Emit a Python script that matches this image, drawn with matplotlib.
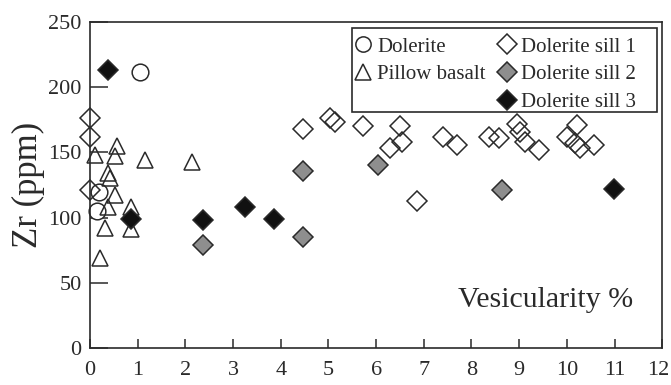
import matplotlib
matplotlib.use("Agg")
import matplotlib.pyplot as plt
import matplotlib.transforms as mtransforms
from matplotlib.lines import Line2D
from matplotlib.patches import Rectangle

plt.rcParams["font.family"] = ["Liberation Serif", "DejaVu Serif"]

# Zr concentration (ppm) vs vesicularity (%) by rock group
dolerite_x = [1.05, 0.20, 0.14]
dolerite_y = [212, 120, 105]

pillow_x = [0.10, 0.56, 0.52, 1.15, 2.13, 0.38, 0.42, 0.52, 0.38, 0.87, 0.87, 0.31, 0.21]
pillow_y = [148, 155, 147, 144, 143, 134, 130, 117, 108, 108, 91, 92, 69]

sill1_x = [0.0, 0.0, 0.0, 4.47, 5.03, 5.14, 5.73, 6.50, 6.54, 6.29, 6.85, 7.41, 7.69,
           8.36, 8.57, 8.95, 9.02, 9.13, 9.41, 10.00, 10.21, 10.17, 10.28, 10.56]
sill1_y = [176, 162, 121, 168, 176, 173, 170, 170, 158, 153, 113, 162, 156,
           162, 161, 172, 166, 158, 152, 162, 171, 157, 153, 156]

sill2_x = [2.38, 4.47, 4.47, 6.05, 8.63]
sill2_y = [79, 136, 85, 140, 121]

sill3_x = [0.38, 0.87, 2.38, 3.25, 3.85, 10.98]
sill3_y = [213, 99, 98, 108, 99, 122]

ink = "#2a2a2a"

fig = plt.figure(figsize=(6.71, 3.85), dpi=100)
ax = fig.add_axes([0.134, 0.096, 0.853, 0.847])

common = dict(linestyle="none", markeredgecolor=ink, markeredgewidth=1.1, clip_on=False)
ax.plot(dolerite_x, dolerite_y, marker="o", ms=12, mfc="white", **common)
ax.plot(pillow_x, pillow_y, marker="^", ms=11, mfc="none", **common)
ax.plot(sill1_x, sill1_y, marker="D", ms=10, mfc="none", **common)
ax.plot(sill2_x, sill2_y, marker="D", ms=10, mfc="#8e8e8e", **common)
ax.plot(sill3_x, sill3_y, marker="D", ms=10, mfc="#111111", **common)

ax.set_xlim(0, 12)
ax.set_ylim(0, 250)
ax.set_xticks(range(0, 13))
ax.set_yticks(range(0, 251, 50))
ax.tick_params(axis="both", direction="in", colors=ink, labelsize=16, width=1.1)
ax.tick_params(axis="x", length=6.5, pad=9)
ax.tick_params(axis="y", length=13, pad=6)
for s in ax.spines.values():
    s.set_linewidth(1.2)
    s.set_color(ink)

# nudge the last x label in so it stays on the canvas
last = ax.get_xticklabels()[-1]
last.set_transform(last.get_transform() + mtransforms.ScaledTranslation(-4 / 100, 0, fig.dpi_scale_trans))

ax.set_ylabel("Zr (ppm)", fontsize=25, color=ink, labelpad=2)
ax.text(0.643, 0.147, "Vesicularity %", transform=ax.transAxes, fontsize=21.5,
        color=ink, ha="left", va="center")

def handle(marker, face, size):
    return Line2D([], [], linestyle="none", marker=marker, ms=size, mfc=face,
                  markeredgecolor=ink, markeredgewidth=1.1)

handles = [handle("o", "white", 11), handle("^", "none", 11),
           Line2D([], [], linestyle="none"),
           handle("D", "none", 10), handle("D", "#8e8e8e", 10), handle("D", "#111111", 10)]
labels = ["Dolerite", "Pillow basalt", "", "Dolerite sill 1", "Dolerite sill 2", "Dolerite sill 3"]
leg = ax.legend(handles, labels, ncol=2, loc="upper left", bbox_to_anchor=(0.451, 0.973),
                fontsize=15, frameon=False, handlelength=0.8, handletextpad=0.3,
                columnspacing=0.6, labelspacing=0.4, borderpad=0.3, borderaxespad=0)
for t in leg.get_texts():
    t.set_color(ink)

# legend box
ax.add_patch(Rectangle((0.458, 0.724), 0.533, 0.258, transform=ax.transAxes,
                       fill=False, edgecolor=ink, linewidth=1.2, zorder=4))

fig.savefig("out.png", dpi=100)
